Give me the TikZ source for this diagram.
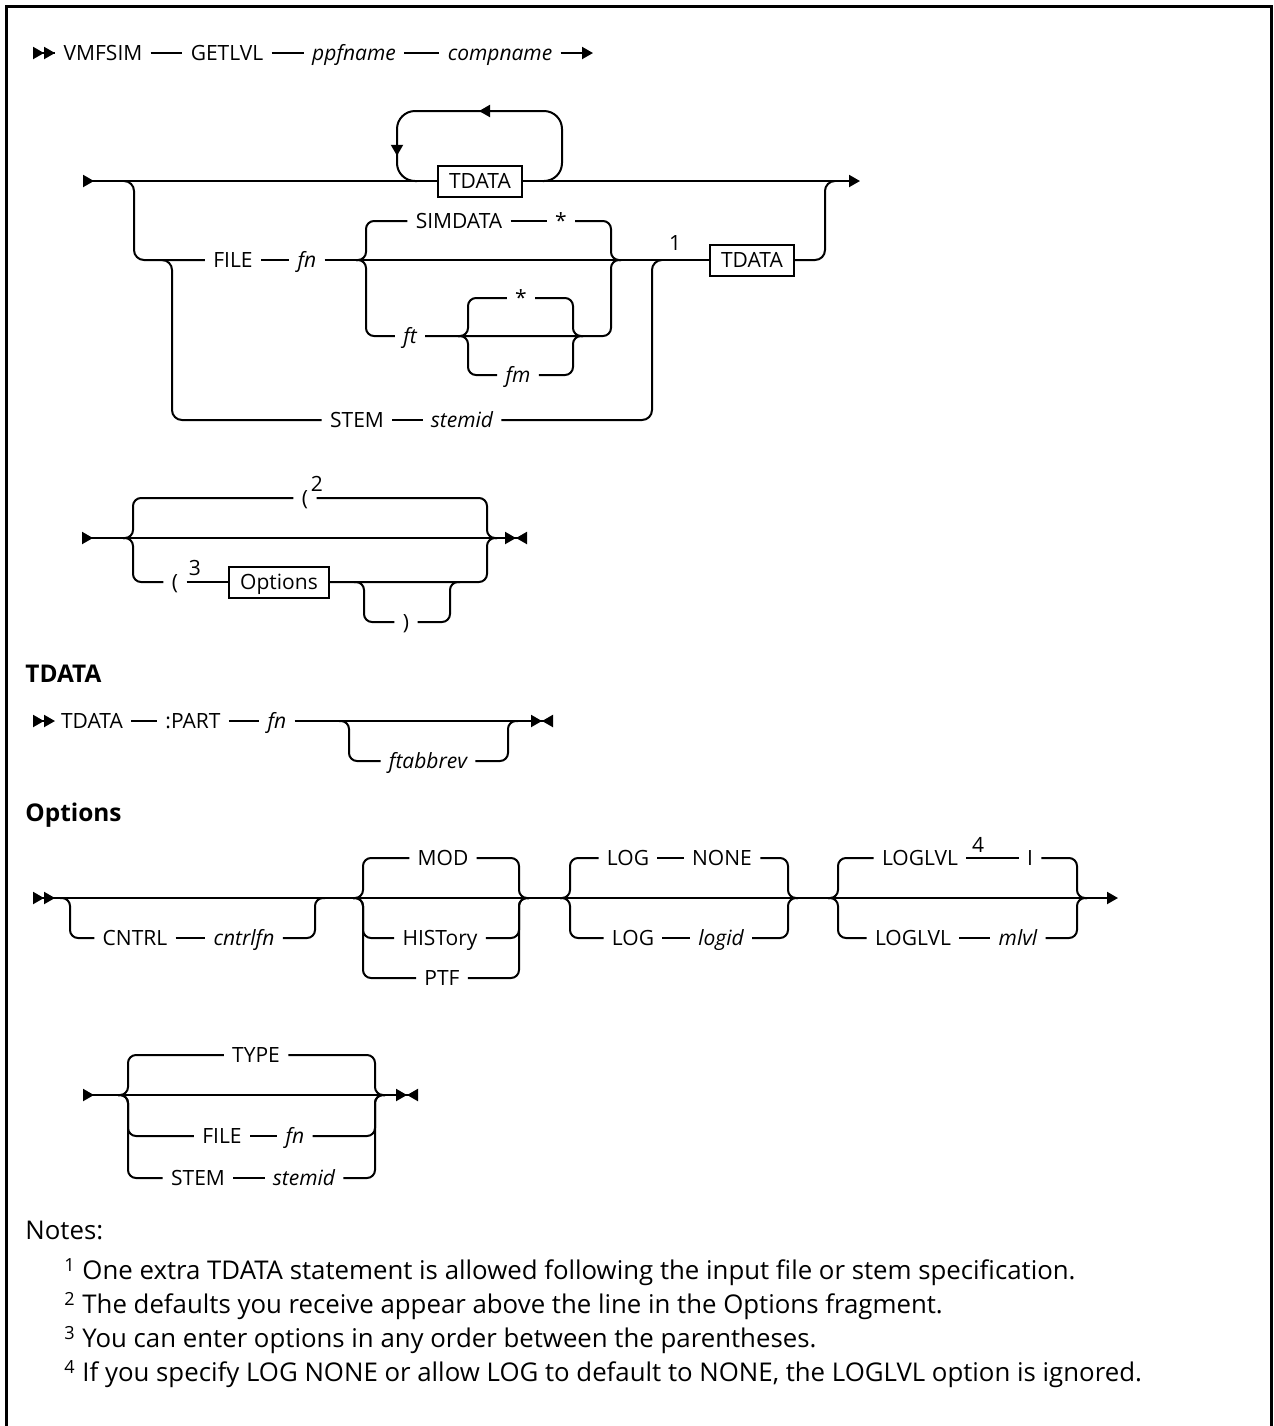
\documentclass[tikz,border=0pt]{standalone}
\usepackage{fontspec}
\setmainfont{Open Sans}
\usetikzlibrary{arrows.meta,positioning,decorations.markings}

\newcommand\diagfont{\fontsize{10.5}{12}\selectfont}
\newcommand\notefont{\fontsize{12.9}{15}\selectfont}

\tikzset{
  ahead/.tip={Triangle[length=5.5pt,width=6pt]},
  aback/.tip={Triangle[reversed,length=5.5pt,width=6pt]}
}

\begin{document}
\begin{tikzpicture}[x=0.5pt, y=-0.5pt,
  rail/.style={line width=1pt},
  brace/.style={rail, rounded corners=4pt},
  kw/.style={font=\diagfont, inner xsep=4pt, inner ysep=0pt, text height=7.5pt, text depth=0pt},
  var/.style={kw, font=\diagfont\itshape},
  refbox/.style={kw, draw, line width=1pt, inner xsep=5.5pt, inner ysep=4pt},
  notemark/.style={font=\diagfont, inner sep=0pt},
  heading/.style={font=\fontsize{12.2}{14}\selectfont\bfseries, anchor=west, inner sep=0pt},
  note/.style={font=\notefont, anchor=west, inner sep=0pt},
  looparrows/.style={postaction={decorate}, decoration={markings,
      mark=at position 0.5 with {\arrow{ahead}},
      mark=at position 0.88 with {\arrow{ahead}}}}
]
  \useasboundingbox (0,0) rectangle (1274,1426);
  \draw[line width=1.5pt] (6,1426) -- (6,6) -- (1271,6) -- (1271,1426);

  % VMFSIM GETLVL ppfname compname
  \coordinate (r1s) at (33,53);
  \coordinate (r1e) at (593,53);
  \node[kw]  (vmfsim)   at (103,53) {VMFSIM};
  \node[kw]  (getlvl)   at (227,53) {GETLVL};
  \node[var] (ppfname)  at (354,53) {ppfname};
  \node[var] (compname) at (500,53) {compname};
  \draw[rail, {aback[]aback[]}-] (r1s) -- (vmfsim);
  \draw[rail] (vmfsim) -- (getlvl) (getlvl) -- (ppfname) (ppfname) -- (compname);
  \draw[rail, -ahead] (compname) -- (r1e);

  % input source
  \coordinate (s2s) at (83,181);
  \coordinate (s2e) at (860,181);
  \node[refbox] (tdloop) at (480,181) {TDATA};
  \draw[rail, aback-] (s2s) -- (tdloop);
  \draw[rail, -ahead] (tdloop) -- (s2e);
  \draw[brace, rounded corners=9pt, looparrows] ([xshift=10pt]tdloop.east) -| (562,111) -| (397,181) -- ([xshift=-10pt]tdloop.west);

  \node[kw]  (file)    at (233,260) {FILE};
  \node[var] (fn)      at (307,260) {fn};
  \node[kw]  (simdata) at (459,221) {SIMDATA};
  \node[kw]  (star1)   at (561,221) {*};
  \node[var] (ft)      at (410,336) {ft};
  \node[kw]  (star2)   at (521,298) {*};
  \node[var] (fm)      at (518,375) {fm};
  \node[kw]  (stem)    at (357,420) {STEM};
  \node[var] (stemid)  at (462,420) {stemid};
  \node[notemark] (n1) at (675,243) {1};
  \node[refbox] (tdone) at (752,260) {TDATA};

  \draw[rail, rounded corners=5pt] (124,181) -| (134,260) -- (file);
  \draw[rail] (file) -- (fn) (fn) -- (tdone);
  \draw[brace] (356,260) -| (366,221) -- (simdata);
  \draw[rail] (simdata) -- (star1);
  \draw[brace] (star1) -| (611,260) -- (621,260);
  \draw[brace] (356,260) -| (366,336) -- (ft);
  \draw[brace] (ft) -| (611,260) -- (621,260);
  \draw[brace] (458,336) -| (468,298) -- (star2);
  \draw[brace] (star2) -| (573,336) -- (583,336);
  \draw[brace] (458,336) -| (468,375) -- (fm);
  \draw[brace] (fm) -| (573,336) -- (583,336);
  \draw[rail, rounded corners=5pt] (162,260) -| (172,420) -- (stem);
  \draw[rail] (stem) -- (stemid);
  \draw[rail, rounded corners=5pt] (stemid) -| (652,260) -- (662,260);
  \draw[rail, rounded corners=5pt] (tdone) -| (825,181) -- (835,181);

  % parenthesis and options
  \coordinate (s3s) at (82,538);
  \coordinate (s3e) at (527,538);
  \draw[rail, aback-{ahead[]aback[]}] (s3s) -- (s3e);
  \node[kw] (lp2) at (305,498) {(};
  \node[notemark] (n2) at (317,484) {2};
  \node[kw] (lp3) at (175,582) {(};
  \node[notemark] (n3) at (195,568) {3};
  \node[refbox] (opts) at (279,582) {Options};
  \node[kw] (rp) at (406,622) {)};
  \draw[brace] (123,538) -| (133,498) -- (lp2);
  \draw[brace] (lp2) -| (487,538) -- (497,538);
  \draw[brace] (123,538) -| (133,582) -- (lp3);
  \draw[rail] (lp3) -- (opts);
  \draw[brace] (opts) -| (487,538) -- (497,538);
  \draw[brace] (354,582) -| (364,622) -- (rp);
  \draw[brace] (rp) -| (450,582) -- (460,582);

  % TDATA fragment
  \node[heading] (hdtdata) at (25,674) {TDATA};
  \coordinate (s4s) at (33,721);
  \coordinate (s4e) at (553,721);
  \node[kw]  (td)    at (92,721)  {TDATA};
  \node[kw]  (part)  at (193,721) {:PART};
  \node[var] (fn4)   at (277,721) {fn};
  \node[var] (ftab)  at (428,761) {ftabbrev};
  \draw[rail, {aback[]aback[]}-] (s4s) -- (td);
  \draw[rail] (td) -- (part) (part) -- (fn4);
  \draw[rail, -{ahead[]aback[]}] (fn4) -- (s4e);
  \draw[brace] (339,721) -| (349,761) -- (ftab);
  \draw[brace] (ftab) -| (508,721) -- (518,721);

  % Options fragment
  \node[heading] (hdopts) at (25,815) {Options};
  \coordinate (s5s) at (33,898);
  \coordinate (s5e) at (1118,898);
  \draw[rail, {aback[]aback[]}-ahead] (s5s) -- (s5e);
  \node[kw]  (cntrl)   at (135,938)  {CNTRL};
  \node[var] (cntrlfn) at (244,938)  {cntrlfn};
  \node[kw]  (mod)     at (443,858)  {MOD};
  \node[kw]  (hist)    at (440,938)  {HISTory};
  \node[kw]  (ptf)     at (442,978)  {PTF};
  \node[kw]  (log1)    at (628,858)  {LOG};
  \node[kw]  (none)    at (722,858)  {NONE};
  \node[kw]  (log2)    at (633,938)  {LOG};
  \node[var] (logid)   at (721,938)  {logid};
  \node[kw]  (lvl1)    at (920,858)  {LOGLVL};
  \node[notemark] (n4) at (978,845)  {4};
  \node[kw]  (lvli)    at (1030,858) {I};
  \node[kw]  (lvl2)    at (913,938)  {LOGLVL};
  \node[var] (mlvl)    at (1018,938) {mlvl};

  \draw[brace] (60,898) -| (70,938) -- (cntrl);
  \draw[rail] (cntrl) -- (cntrlfn);
  \draw[brace] (cntrlfn) -| (315,898) -- (325,898);
  \draw[brace] (353,898) -| (363,858) -- (mod);
  \draw[brace] (mod) -| (519,898) -- (529,898);
  \draw[brace] (353,898) -| (363,938) -- (hist);
  \draw[brace] (hist) -| (519,898) -- (529,898);
  \draw[brace] (353,898) -| (363,978) -- (ptf);
  \draw[brace] (ptf) -| (519,898) -- (529,898);
  \draw[brace] (560,898) -| (570,858) -- (log1);
  \draw[rail] (log1) -- (none);
  \draw[brace] (none) -| (788,898) -- (798,898);
  \draw[brace] (560,898) -| (570,938) -- (log2);
  \draw[rail] (log2) -- (logid);
  \draw[brace] (logid) -| (788,898) -- (798,898);
  \draw[brace] (828,898) -| (838,858) -- (lvl1);
  \draw[rail] (lvl1) -- (lvli);
  \draw[brace] (lvli) -| (1077,898) -- (1087,898);
  \draw[brace] (828,898) -| (838,938) -- (lvl2);
  \draw[rail] (lvl2) -- (mlvl);
  \draw[brace] (mlvl) -| (1077,898) -- (1087,898);

  \coordinate (s6s) at (83,1095);
  \coordinate (s6e) at (418,1095);
  \draw[rail, aback-{ahead[]aback[]}] (s6s) -- (s6e);
  \node[kw]  (type)    at (256,1055) {TYPE};
  \node[kw]  (file6)   at (222,1136) {FILE};
  \node[var] (fn6)     at (295,1136) {fn};
  \node[kw]  (stem6)   at (198,1178) {STEM};
  \node[var] (stemid6) at (304,1178) {stemid};
  \draw[brace] (118,1095) -| (128,1055) -- (type);
  \draw[brace] (type) -| (375,1095) -- (385,1095);
  \draw[brace] (118,1095) -| (128,1136) -- (file6);
  \draw[rail] (file6) -- (fn6);
  \draw[brace] (fn6) -| (375,1095) -- (385,1095);
  \draw[brace] (118,1095) -| (128,1178) -- (stem6);
  \draw[rail] (stem6) -- (stemid6);
  \draw[brace] (stemid6) -| (375,1095) -- (385,1095);

  % notes
  \node[note] (notes) at (25,1230) {Notes:};
  \node[note] (note1) at (64,1272) {\textsuperscript{1} One extra TDATA statement is allowed following the input file or stem specification.};
  \node[note] (note2) at (64,1306) {\textsuperscript{2} The defaults you receive appear above the line in the Options fragment.};
  \node[note] (note3) at (64,1340) {\textsuperscript{3} You can enter options in any order between the parentheses.};
  \node[note] (note4) at (64,1374) {\textsuperscript{4} If you specify LOG NONE or allow LOG to default to NONE, the LOGLVL option is ignored.};
\end{tikzpicture}
\end{document}
